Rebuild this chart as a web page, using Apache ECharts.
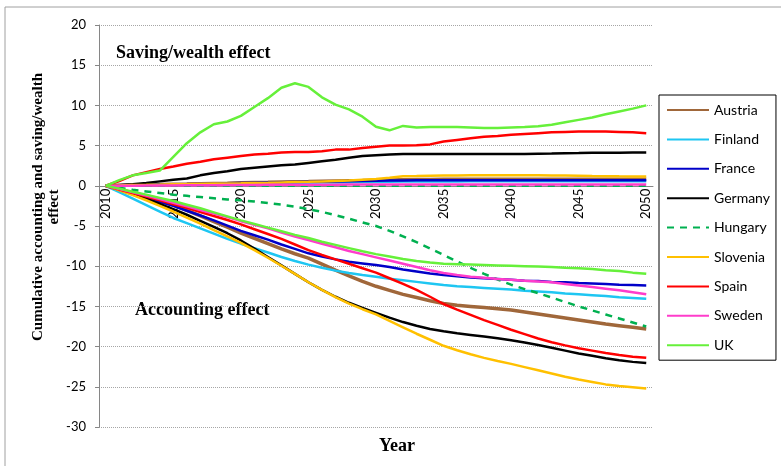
<!DOCTYPE html>
<html>
<head>
<meta charset="utf-8">
<title>Cumulative accounting and saving/wealth effect</title>
<script src="https://cdn.jsdelivr.net/npm/echarts@6/dist/echarts.min.js"></script>
<style>
  html, body { margin: 0; padding: 0; background: #fff; }
  #main { width: 781px; height: 466px; }
</style>
</head>
<body>
<div id="main"></div>
<script>
// 年份 (category axis)
const years = []
for (let y = 2010; y <= 2050; y++) years.push(String(y))

const countries = ['Austria', 'Finland', 'France', 'Germany', 'Hungary', 'Slovenia', 'Spain', 'Sweden', 'UK']

// y axis range
const yMin = -30
const yMax = 20
const yStep = 5

// saving/wealth effect (upper lines)
const austriaSaving = [0, 0.05, 0.1, 0.13, 0.17, 0.2, 0.23, 0.27, 0.3, 0.33, 0.37, 0.4, 0.43, 0.47, 0.5, 0.53, 0.57, 0.6, 0.63, 0.66, 0.7, 0.72, 0.75, 0.77, 0.78, 0.8, 0.8, 0.81, 0.81, 0.82, 0.82, 0.82, 0.82, 0.82, 0.82, 0.82, 0.82, 0.82, 0.82, 0.82, 0.82]
const finlandSaving = [0, 0.03, 0.06, 0.09, 0.12, 0.15, 0.18, 0.2, 0.22, 0.25, 0.27, 0.3, 0.32, 0.34, 0.36, 0.38, 0.4, 0.42, 0.44, 0.46, 0.48, 0.5, 0.52, 0.53, 0.54, 0.55, 0.55, 0.56, 0.56, 0.56, 0.56, 0.57, 0.57, 0.57, 0.57, 0.57, 0.57, 0.57, 0.57, 0.57, 0.57]
const franceSaving = [0, 0.04, 0.08, 0.11, 0.15, 0.18, 0.21, 0.25, 0.28, 0.31, 0.34, 0.37, 0.4, 0.43, 0.46, 0.49, 0.52, 0.55, 0.58, 0.61, 0.63, 0.65, 0.67, 0.68, 0.69, 0.7, 0.7, 0.7, 0.7, 0.7, 0.7, 0.7, 0.7, 0.7, 0.7, 0.7, 0.7, 0.7, 0.7, 0.7, 0.7]
const germanySaving = [0, 0.1, 0.2, 0.35, 0.55, 0.75, 0.9, 1.3, 1.6, 1.8, 2.1, 2.25, 2.4, 2.55, 2.65, 2.85, 3.05, 3.25, 3.5, 3.7, 3.8, 3.9, 3.95, 3.95, 3.95, 3.95, 3.95, 3.95, 3.95, 3.95, 3.95, 3.97, 4.0, 4.02, 4.05, 4.07, 4.1, 4.1, 4.12, 4.15, 4.15]
const hungarySaving = [0, 0, 0.01, 0.01, 0.01, 0.02, 0.02, 0.02, 0.02, 0.02, 0.02, 0.02, 0.02, 0.02, 0.02, 0.02, 0.02, 0.02, 0.02, 0.02, 0.02, 0.02, 0.02, 0.02, 0.02, 0.02, 0.02, 0.02, 0.02, 0.02, 0.02, 0.02, 0.02, 0.02, 0.02, 0.02, 0.02, 0.02, 0.02, 0.02, 0.02]
const sloveniaSaving = [0, 0.05, 0.1, 0.12, 0.15, 0.2, 0.22, 0.25, 0.28, 0.3, 0.32, 0.35, 0.38, 0.42, 0.46, 0.5, 0.55, 0.6, 0.65, 0.75, 0.85, 1.0, 1.2, 1.22, 1.25, 1.27, 1.28, 1.3, 1.3, 1.3, 1.3, 1.3, 1.3, 1.28, 1.27, 1.25, 1.22, 1.2, 1.18, 1.17, 1.15]
const spainSaving = [0, 0.6, 1.3, 1.7, 2.1, 2.4, 2.75, 3.0, 3.3, 3.5, 3.7, 3.9, 4.0, 4.15, 4.2, 4.2, 4.3, 4.5, 4.5, 4.7, 4.85, 5.0, 5.0, 5.05, 5.15, 5.5, 5.7, 5.9, 6.1, 6.2, 6.35, 6.45, 6.55, 6.65, 6.7, 6.75, 6.75, 6.75, 6.7, 6.65, 6.55]
const swedenSaving = [0, 0.01, 0.02, 0.03, 0.04, 0.05, 0.06, 0.07, 0.08, 0.09, 0.1, 0.11, 0.12, 0.12, 0.13, 0.13, 0.14, 0.14, 0.15, 0.15, 0.15, 0.16, 0.16, 0.16, 0.16, 0.17, 0.17, 0.17, 0.17, 0.17, 0.17, 0.17, 0.17, 0.17, 0.17, 0.17, 0.17, 0.17, 0.17, 0.17, 0.17]
const ukSaving = [0, 0.7, 1.3, 1.6, 1.9, 3.6, 5.3, 6.65, 7.65, 8.0, 8.7, 9.8, 10.9, 12.2, 12.75, 12.3, 11.0, 10.1, 9.5, 8.6, 7.35, 6.9, 7.45, 7.25, 7.3, 7.3, 7.3, 7.25, 7.2, 7.2, 7.25, 7.3, 7.4, 7.6, 7.9, 8.2, 8.5, 8.9, 9.25, 9.6, 10.0]

// accounting effect (lower lines)
const austriaAccounting = [0, -0.45, -0.9, -1.4, -1.9, -2.4, -3.05, -3.75, -4.45, -5.15, -5.9, -6.55, -7.2, -7.85, -8.45, -9.0, -9.75, -10.5, -11.2, -11.9, -12.5, -13.0, -13.5, -13.9, -14.3, -14.65, -14.85, -15.0, -15.15, -15.3, -15.45, -15.7, -15.95, -16.2, -16.45, -16.7, -16.95, -17.2, -17.4, -17.6, -17.8]
const finlandAccounting = [0, -0.8, -1.6, -2.4, -3.2, -4.0, -4.65, -5.3, -5.95, -6.6, -7.2, -7.75, -8.3, -8.85, -9.35, -9.8, -10.2, -10.55, -10.85, -11.1, -11.3, -11.55, -11.75, -11.95, -12.15, -12.35, -12.5, -12.6, -12.7, -12.8, -12.9, -13.05, -13.15, -13.25, -13.4, -13.5, -13.6, -13.7, -13.85, -13.95, -14.05]
const franceAccounting = [0, -0.5, -1.0, -1.5, -2.0, -2.5, -3.1, -3.7, -4.3, -4.95, -5.6, -6.15, -6.7, -7.3, -7.85, -8.4, -8.8, -9.15, -9.45, -9.65, -9.85, -10.1, -10.4, -10.65, -10.9, -11.1, -11.25, -11.4, -11.5, -11.6, -11.7, -11.8, -11.85, -11.95, -12.0, -12.1, -12.15, -12.2, -12.3, -12.35, -12.4]
const germanyAccounting = [0, -0.5, -1.05, -1.6, -2.25, -2.9, -3.6, -4.35, -5.1, -5.9, -6.8, -7.8, -8.85, -9.9, -10.95, -12.0, -12.95, -13.8, -14.55, -15.2, -15.8, -16.4, -16.95, -17.4, -17.8, -18.1, -18.35, -18.55, -18.75, -18.95, -19.2, -19.5, -19.8, -20.15, -20.5, -20.85, -21.15, -21.45, -21.7, -21.9, -22.05]
const hungaryAccounting = [0, -0.25, -0.5, -0.7, -0.9, -1.1, -1.25, -1.4, -1.55, -1.7, -1.8, -1.95, -2.15, -2.35, -2.6, -2.9, -3.25, -3.65, -4.1, -4.55, -5.0, -5.6, -6.3, -7.0, -7.8, -8.6, -9.4, -10.2, -10.95, -11.65, -12.3, -12.85, -13.35, -13.9, -14.45, -15.0, -15.5, -16.0, -16.5, -17.0, -17.5]
const sloveniaAccounting = [0, -0.55, -1.15, -1.8, -2.5, -3.2, -3.95, -4.7, -5.5, -6.3, -7.1, -8.0, -8.95, -9.95, -10.95, -12.0, -12.95, -13.85, -14.65, -15.35, -16.0, -16.8, -17.6, -18.4, -19.15, -19.9, -20.45, -20.95, -21.4, -21.8, -22.15, -22.55, -22.95, -23.35, -23.75, -24.1, -24.4, -24.7, -24.9, -25.05, -25.2]
const spainAccounting = [0, -0.45, -0.9, -1.35, -1.8, -2.3, -2.75, -3.25, -3.75, -4.25, -4.8, -5.4, -6.0, -6.6, -7.3, -8.0, -8.6, -9.15, -9.7, -10.25, -10.8, -11.5, -12.2, -12.95, -13.8, -14.7, -15.4, -16.05, -16.7, -17.3, -17.9, -18.45, -19.0, -19.45, -19.85, -20.2, -20.5, -20.8, -21.05, -21.25, -21.4]
const swedenAccounting = [0, -0.4, -0.8, -1.2, -1.65, -2.1, -2.55, -3.0, -3.45, -3.9, -4.4, -4.85, -5.3, -5.8, -6.3, -6.75, -7.2, -7.65, -8.1, -8.5, -8.9, -9.3, -9.7, -10.1, -10.5, -10.85, -11.1, -11.3, -11.45, -11.6, -11.7, -11.8, -11.9, -12.0, -12.2, -12.4, -12.6, -12.8, -13.0, -13.25, -13.5]
const ukAccounting = [0, -0.35, -0.75, -1.1, -1.5, -1.9, -2.35, -2.8, -3.3, -3.8, -4.3, -4.75, -5.2, -5.65, -6.1, -6.5, -6.95, -7.35, -7.75, -8.15, -8.5, -8.8, -9.1, -9.35, -9.55, -9.7, -9.75, -9.8, -9.85, -9.9, -9.95, -10.0, -10.05, -10.1, -10.2, -10.25, -10.35, -10.5, -10.6, -10.8, -10.95]

const savingData = [austriaSaving, finlandSaving, franceSaving, germanySaving, hungarySaving, sloveniaSaving, spainSaving, swedenSaving, ukSaving]
const accountingData = [austriaAccounting, finlandAccounting, franceAccounting, germanyAccounting, hungaryAccounting, sloveniaAccounting, spainAccounting, swedenAccounting, ukAccounting]

const colors = ['#A0673A', '#1EC6F2', '#0000C8', '#000000', '#00B050', '#FFC000', '#FF0000', '#FF3CCB', '#66F03A']
const widths = [3.5, 2.5, 2.5, 2.5, 2.5, 2.5, 2.5, 2.5, 2.5]

// 绘图区
const gridTop = 25
const gridBottom = 39
const chartHeight = 466
const plotHeight = chartHeight - gridTop - gridBottom
// 横轴放在 0 刻度处 (offset 由刻度范围算出)
const zeroOffset = -plotHeight * (0 - yMin) / (yMax - yMin)

const chartObj = echarts.init(document.getElementById('main'))

// 每个国家两条线，同名，图例共用一项
const series = []
for (let i = 0; i < countries.length; i++) {
  const lineStyle = {
    color: colors[i],
    width: widths[i],
    type: countries[i] === 'Hungary' ? [7, 6] : 'solid'
  }
  series.push({
    name: countries[i],
    type: 'line',
    symbol: 'none',
    color: colors[i],
    lineStyle: lineStyle,
    data: accountingData[i]
  })
  series.push({
    name: countries[i],
    type: 'line',
    symbol: 'none',
    color: colors[i],
    lineStyle: lineStyle,
    data: savingData[i]
  })
}

const option = {
  animation: false,
  textStyle: { fontFamily: 'Lato' },
  color: colors,
  grid: {
    left: 99,
    right: 128,
    top: gridTop,
    bottom: gridBottom,
    containLabel: false
  },
  legend: {
    data: countries,
    orient: 'vertical',
    left: 659,
    top: 95,
    borderColor: '#000',
    borderWidth: 1,
    padding: [8, 6, 8, 7],
    itemWidth: 42,
    itemHeight: 14,
    itemGap: 15.4,
    // 图例只画线，不画圆点
    itemStyle: { opacity: 0 },
    textStyle: { fontSize: 14, color: '#000', fontFamily: 'Lato' }
  },
  xAxis: {
    type: 'category',
    data: years,
    boundaryGap: true,
    offset: zeroOffset,
    axisLine: {
      onZero: false,
      lineStyle: { color: '#868686' }
    },
    axisTick: {
      interval: 0,
      length: 5,
      lineStyle: { color: '#868686' }
    },
    axisLabel: {
      interval: 4,
      rotate: 90,
      margin: 3,
      fontSize: 13,
      color: '#000'
    },
    splitLine: { show: false }
  },
  yAxis: {
    type: 'value',
    min: yMin,
    max: yMax,
    interval: yStep,
    axisLine: {
      show: true,
      lineStyle: { color: '#868686' }
    },
    axisTick: {
      show: true,
      length: 4,
      lineStyle: { color: '#868686' }
    },
    axisLabel: {
      margin: 13,
      fontSize: 13,
      color: '#000'
    },
    splitLine: {
      show: true,
      lineStyle: { color: '#a6a6a6', type: 'dotted', width: 1 }
    }
  },
  graphic: [
    {
      type: 'polyline',
      shape: { points: [[5, 466], [5, 7], [781, 7]] },
      style: { stroke: '#a0a0a0', lineWidth: 1, fill: null },
      silent: true
    },
    {
      type: 'text',
      left: 116,
      top: 44,
      style: {
        text: 'Saving/wealth effect',
        font: 'bold 18px "Liberation Serif"',
        fill: '#000'
      }
    },
    {
      type: 'text',
      left: 135,
      top: 301,
      style: {
        text: 'Accounting effect',
        font: 'bold 18px "Liberation Serif"',
        fill: '#000'
      }
    },
    {
      type: 'text',
      x: 397,
      y: 446,
      style: {
        text: 'Year',
        font: 'bold 18px "Liberation Serif"',
        fill: '#000',
        textAlign: 'center',
        textVerticalAlign: 'middle'
      }
    },
    {
      type: 'text',
      x: 46,
      y: 207,
      rotation: Math.PI / 2,
      style: {
        text: 'Cumulative accounting and saving/wealth\neffect',
        font: 'bold 15px "Liberation Serif"',
        lineHeight: 16,
        fill: '#000',
        textAlign: 'center',
        textVerticalAlign: 'middle'
      }
    }
  ],
  series: series
}

chartObj.setOption(option, true)
</script>
</body>
</html>
